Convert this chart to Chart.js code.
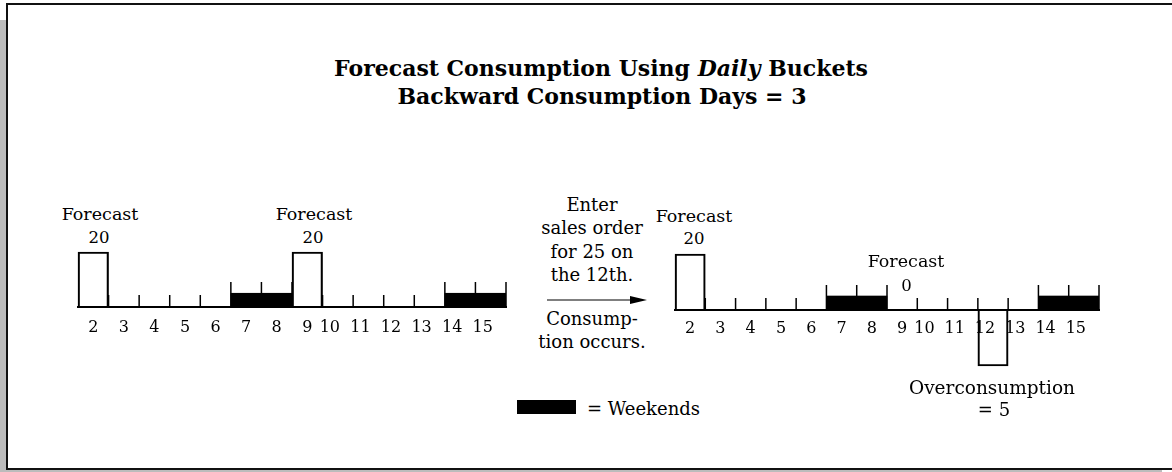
<!DOCTYPE html>
<html>
<head>
<meta charset="utf-8">
<script src="https://cdn.jsdelivr.net/npm/chart.js@4.4.1/dist/chart.umd.min.js"></script>
<style>
html, body { margin: 0; padding: 0; background: #fff; }
body { width: 1172px; height: 472px; position: relative; overflow: hidden; font-family: "DejaVu Serif", serif; color: #000; }
.shadow { position: absolute; left: 0; top: 20px; width: 1162px; height: 452px; background: #bcbcbc; }
.frame { position: absolute; left: 6px; top: 3px; width: 1168px; height: 467px; box-sizing: border-box; border: 2px solid #111; background: #fff; }
.t { position: absolute; transform: translate(-50%, -50%); white-space: nowrap; line-height: 1; font-size: 18px; }
.f { font-size: 17.5px; }
.n { font-size: 16.5px; }
.title { font-weight: bold; font-size: 22px; }
canvas { position: absolute; }
.key { position: absolute; left: 517px; top: 400px; width: 59px; height: 14px; background: #000; }
</style>
</head>
<body>
<div class="shadow"></div>
<div class="frame"></div>

<div class="t title" style="left:601px;top:68px">Forecast Consumption Using <i>Daily</i> Buckets</div>
<div class="t title" style="left:602px;top:95.7px">Backward Consumption Days = 3</div>

<canvas id="leftChart" width="450" height="130" style="left:76px;top:247px"></canvas>
<canvas id="rightChart" width="446" height="130" style="left:673px;top:250px"></canvas>

<div class="t f" style="left:100px;top:214.5px">Forecast</div>
<div class="t n" style="left:99px;top:237.6px">20</div>
<div class="t f" style="left:314px;top:214.5px">Forecast</div>
<div class="t n" style="left:313px;top:237.6px">20</div>

<div class="t" style="left:592px;top:204.5px">Enter</div>
<div class="t" style="left:592px;top:228px">sales order</div>
<div class="t" style="left:592px;top:251.5px">for 25 on</div>
<div class="t" style="left:592px;top:274.5px">the 12th.</div>
<svg style="position:absolute;left:540px;top:290px" width="112" height="20">
  <line x1="7" y1="10" x2="95" y2="10" stroke="#000" stroke-width="1.2"/>
  <polygon points="90,6 107,10 90,14" fill="#000"/>
</svg>
<div class="t" style="left:592px;top:318.8px">Consump-</div>
<div class="t" style="left:592px;top:342.2px">tion occurs.</div>

<div class="t f" style="left:694px;top:217px">Forecast</div>
<div class="t n" style="left:694px;top:239.3px">20</div>
<div class="t f" style="left:906px;top:262.4px">Forecast</div>
<div class="t n" style="left:906.5px;top:286px">0</div>
<div class="t" style="left:992px;top:388px;font-size:18.5px">Overconsumption</div>
<div class="t" style="left:994px;top:410px">= 5</div>

<div class="key"></div>
<div class="t" style="left:643.5px;top:409px">= Weekends</div>

<script>
// daily buckets, days 2..15
const days = ['2', '3', '4', '5', '6', '7', '8', '9', '10', '11', '12', '13', '14', '15'];
// bar heights as drawn (forecast 20 before, after the order the 12th goes below the line)
const leftForecast = [20, null, null, null, null, null, null, 20, null, null, null, null, null, null];
const rightForecast = [20, null, null, null, null, null, null, null, null, null, -20, null, null, null];
// weekend marker bars
const weekend = [null, null, null, null, null, 5, 5, null, null, null, null, null, 5, 5];

const ff = '"DejaVu Serif", serif';

// small ticks on the baseline at each bucket edge, taller next to weekends
const bucketTicks = {
    id: 'bucketTicks',
    afterDatasetsDraw(chart, args, opts) {
        const { ctx, scales: { x, y } } = chart;
        const y0 = y.getPixelForValue(0);
        ctx.save();
        ctx.strokeStyle = '#000';
        ctx.lineWidth = 1.5;
        for (let b = 1; b <= days.length; b++) {
            const tall = weekend[b - 1] || weekend[b];
            const px = x.getPixelForValue(b - 0.5);
            ctx.beginPath();
            ctx.moveTo(px, y0);
            ctx.lineTo(px, y0 - (tall ? opts.tall : opts.short));
            ctx.stroke();
        }
        ctx.restore();
    }
};

function bucketChart(el, values, yMax, labelPad) {
    return new Chart(el, {
        type: 'bar',
        data: {
            labels: days,
            datasets: [
                { data: values, backgroundColor: 'rgba(255,255,255,0)', borderColor: '#000', borderWidth: 1.5,
                  barPercentage: 1, categoryPercentage: 1, grouped: false, clip: false },
                { data: weekend, backgroundColor: '#000', borderWidth: 0,
                  barPercentage: 1, categoryPercentage: 1, grouped: false }
            ]
        },
        options: {
            responsive: false, animation: false, events: [],
            layout: { padding: { left: 2, right: 20, top: 0, bottom: 0 } },
            plugins: { legend: { display: false }, tooltip: { enabled: false }, bucketTicks: { tall: 25, short: 12 } },
            scales: {
                x: {
                    offset: true,
                    grid: { display: false, drawTicks: false },
                    border: { display: true, color: '#000', width: 2 },
                    ticks: {
                        color: '#000', font: { family: ff, size: 16 }, padding: labelPad,
                        maxRotation: 0, autoSkip: false,
                        // two-digit days sit a little left of the bucket centre
                        callback: function(v) { const s = this.getLabelForValue(v); return s.length > 1 ? s + '\u2003' : s; }
                    },
                    afterFit: s => { s.height = 70; }
                },
                y: { display: false, min: 0, max: yMax }
            }
        },
        plugins: [bucketTicks]
    });
}

bucketChart(document.getElementById('leftChart'), leftForecast, 60 / 2.75, 11);
bucketChart(document.getElementById('rightChart'), rightForecast, 60 / 2.8, 9);
</script>
</body>
</html>
